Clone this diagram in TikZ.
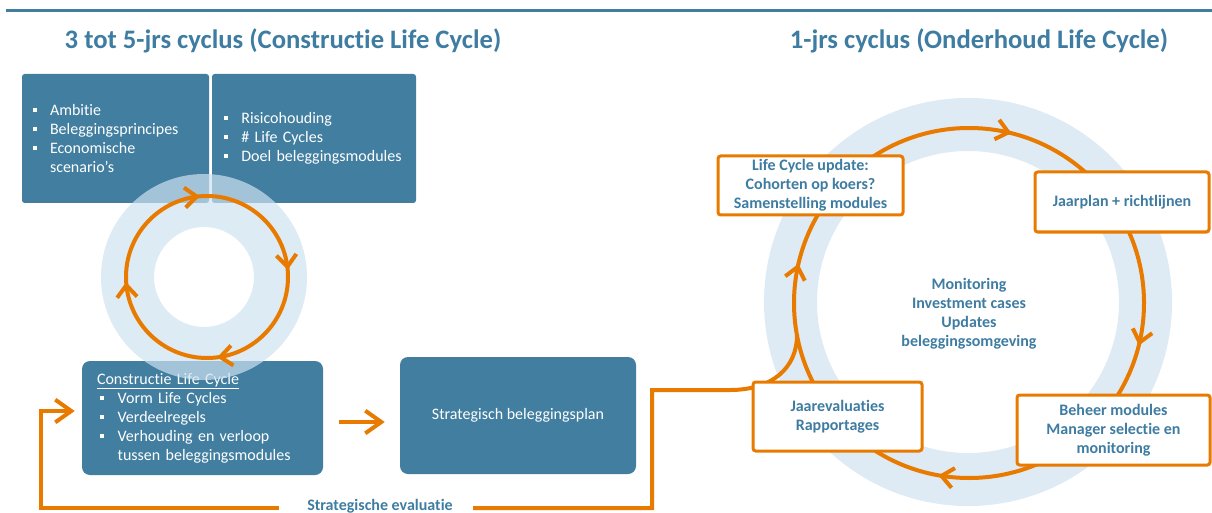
\documentclass[tikz,border=0pt]{standalone}
\usepackage{fontspec}
\setmainfont{Carlito}[Ligatures={NoCommon}]
\usetikzlibrary{arrows.meta,decorations.markings,calc}
\definecolor{pblue}{RGB}{65,126,160}
\definecolor{tblue}{RGB}{62,124,162}
\definecolor{porange}{RGB}{232,122,0}
\definecolor{pring}{RGB}{206,226,240}
\definecolor{rring}{RGB}{222,234,244}
\newcommand\sqb{\makebox[13pt][l]{\raisebox{0.2em}{\rule{3pt}{3pt}}}}
\tikzset{ctip/.tip={Straight Barb[length=9pt,width=15pt]},
         stip/.tip={Straight Barb[length=12pt,width=17pt]}}
\begin{document}
\begin{tikzpicture}[x=0.75pt,y=-0.75pt,
  bluebox/.style={fill=pblue, text=white, inner ysep=0pt, align=left,
    font=\fontsize{12}{14.25}\selectfont},
  obox/.style={draw=porange, line width=2.25pt, fill=white, rounded corners=2pt,
    text=tblue, align=center, inner sep=0pt, font=\bfseries\fontsize{12}{14.25}\selectfont},
  oline/.style={draw=porange, line width=3pt},
  title/.style={text=tblue, font=\bfseries\fontsize{20}{24}\selectfont},
  lbl/.style={text=tblue, align=center, font=\bfseries\fontsize{12}{14.25}\selectfont}]
\useasboundingbox (0,0) rectangle (1212,513);
% top rule
\draw[pblue, line width=2.25pt] (6,10.5) -- (1212,10.5);
% titles
\node[title] (t1) at (283,41) {3 tot 5-jrs cyclus (Constructie Life Cycle)};
\node[title] (t2) at (979,41) {1-jrs cyclus (Onderhoud Life Cycle)};

% ---------- right cycle ----------
\coordinate (rc) at (969,303);
\fill[rring, even odd rule] (968,302) circle[radius=204] (968,302) circle[radius=151];
\draw[oline, postaction={decorate}, decoration={markings,
   mark=at position 0.039 with {\arrow{ctip}},
   mark=at position 0.278 with {\arrow{ctip}},
   mark=at position 0.536 with {\arrow{ctip}},
   mark=at position 0.789 with {\arrow{ctip}}}]
   (rc) circle[radius=175];

% ---------- left part boxes ----------
\node[bluebox, minimum width=140.25pt, minimum height=96.75pt, text width=124.25pt, inner xsep=8pt,
  rounded corners=2pt] (b1) at (115.5,138.5)
  {\sqb Ambitie\\ \sqb Beleggingsprincipes\\ \sqb Economische\\ \hspace*{13pt}scenario’s};
\node[bluebox, minimum width=153pt, minimum height=96.75pt, text width=135pt, inner xsep=9pt,
  rounded corners=2pt] (b2) at (314,138.5)
  {\sqb Risicohouding\\ \sqb \# Life Cycles\\ \sqb Doel beleggingsmodules};
\node[bluebox, minimum width=180.75pt, minimum height=85.5pt, text width=158.25pt, inner xsep=11.25pt,
  rounded corners=6pt] (low) at (202.5,418)
  {\underline{Constructie Life Cycle}\\ \hspace*{2.5pt}\sqb Vorm Life Cycles\\ \hspace*{2.5pt}\sqb Verdeelregels\\
   \hspace*{2.5pt}\sqb Verhouding en verloop\\ \hspace*{15.5pt}tussen beleggingsmodules};
\node[bluebox, minimum width=177pt, minimum height=87.75pt, align=center, rounded corners=6pt]
  (plan) at (518,415.5) {Strategisch beleggingsplan};

% left ring and cycle
\fill[pring, fill opacity=0.7, even odd rule] (204,277) circle[radius=103] (204,277) circle[radius=50];
\coordinate (lc) at (207,277);
\draw[oline, postaction={decorate}, decoration={markings,
   mark=at position 0.23 with {\arrow{ctip}},
   mark=at position 0.49 with {\arrow{ctip}},
   mark=at position 0.736 with {\arrow{ctip}},
   mark=at position 0.986 with {\arrow{ctip}}}]
   (lc) circle[radius=81];

% arrow low -> plan
\draw[oline, -{stip}] ($(low.east)+(16,4)$) -- ($(plan.west |- low.east)+(-15,4)$);

% feedback loop
\node[lbl, inner xsep=0pt] (eval) at (380,506) {Strategische evaluatie};
\draw[oline, -{stip}] ($(eval.west)+(-28,2)$) -- (41,508) -- (41,411) -- ($(low.west)+(-7,-7)$);
\draw[oline] ($(eval.east)+(20,2)$) -- (652,508) -- (652,390) -- (730,390)
   .. controls (772,390) and (797,368) .. (797,335);

% right boxes
\node[obox, minimum width=138.75pt, minimum height=44.25pt] (lcu) at (810.5,185.5)
  {Life Cycle update:\\ Cohorten op koers?\\ Samenstelling modules};
\node[obox, minimum width=130.5pt, minimum height=45pt] (jp) at (1122,202)
  {Jaarplan + richtlijnen};
\node[obox, minimum width=144.75pt, minimum height=52.5pt] (bh) at (1113.5,430)
  {Beheer modules\\ Manager selectie en\\ monitoring};
\node[obox, minimum width=126.75pt, minimum height=51.75pt] (je) at (837.5,416.5)
  {Jaarevaluaties\\ Rapportages};
\node[lbl] (mid) at (969,313.5)
  {Monitoring\\ Investment cases\\ Updates\\ beleggingsomgeving};
\end{tikzpicture}
\end{document}
